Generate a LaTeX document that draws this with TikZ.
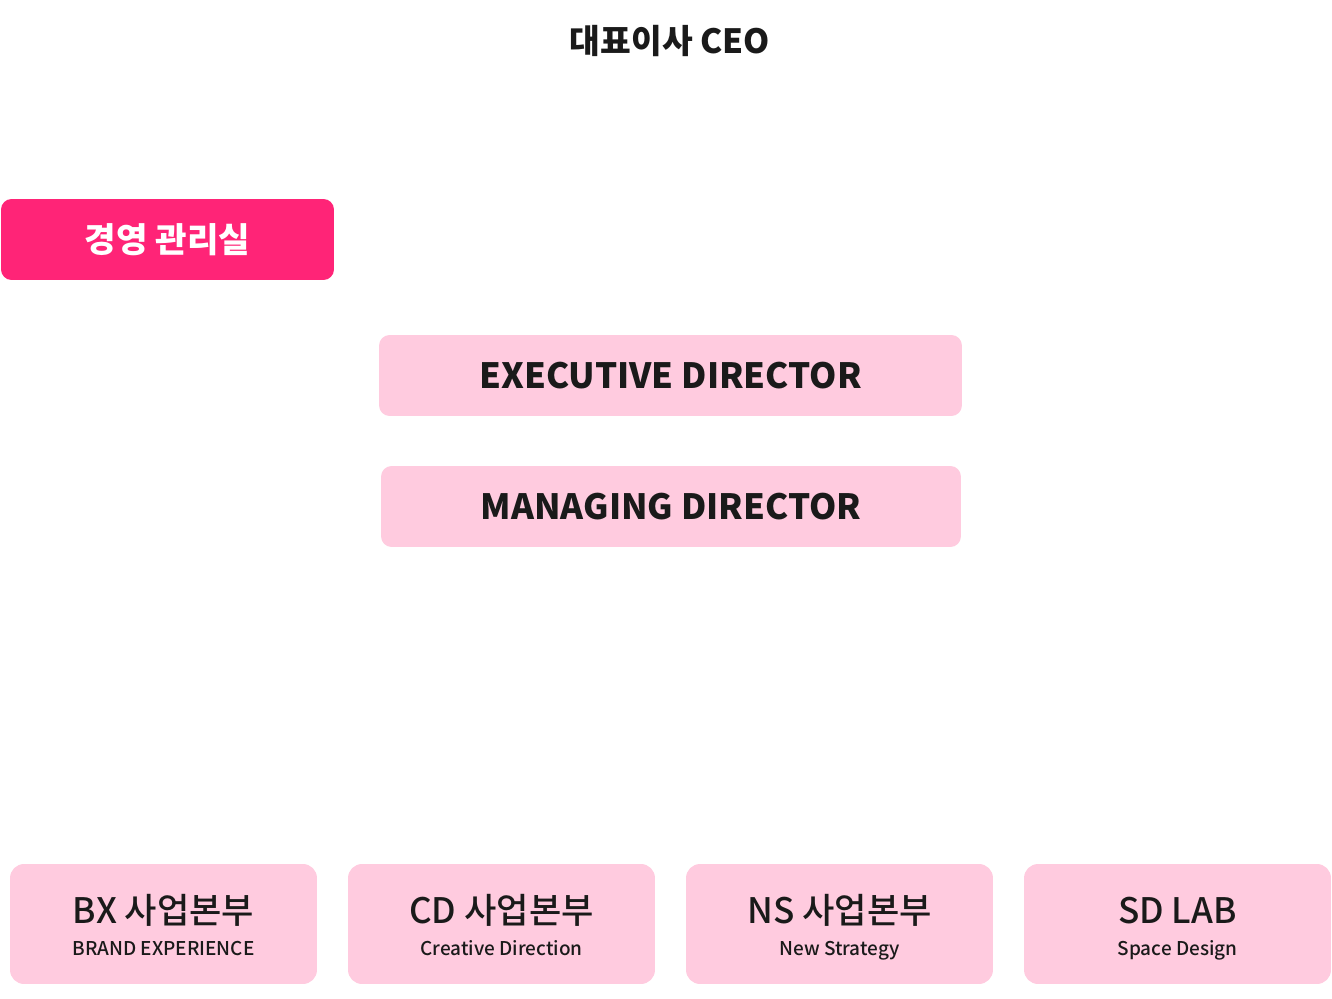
\documentclass[tikz,border=0pt]{standalone}
\usepackage{fontspec}
\setmainfont{Noto Sans CJK KR}
\newfontfamily\krmedium{Noto Sans CJK KR Medium}
\definecolor{hotpink}{RGB}{255,36,119}
\definecolor{softpink}{RGB}{255,203,223}
\definecolor{inkblack}{RGB}{26,26,26}
\usepackage{tikz}
\usetikzlibrary{positioning}

\begin{document}
\begin{tikzpicture}[x=0.02cm,y=-0.02cm,
      role/.style={fill=softpink,rounded corners=6pt,
                   minimum width=11.6cm,minimum height=1.62cm,
                   font=\fontsize{19.8}{24}\selectfont\bfseries,text=inkblack,align=center},
      unitbox/.style={fill=softpink,rounded corners=8pt,
                   minimum width=6.14cm,minimum height=2.4cm},
      unitname/.style={anchor=base,font=\krmedium\fontsize{20}{24}\selectfont,text=inkblack},
      unitsub/.style={anchor=base,font=\krmedium\fontsize{10.8}{13}\selectfont,text=inkblack}]
      \useasboundingbox (0,0) rectangle (1332,999);
      \node[font=\fontsize{19}{23}\selectfont\bfseries,text=inkblack] (ceo) at (670,41) {대표이사 CEO};
      \node[fill=hotpink,rounded corners=6pt,minimum width=6.66cm,minimum height=1.62cm,
            font=\fontsize{19.5}{23}\selectfont\bfseries,text=white] (mgmt) at (167.5,239.5) {경영 관리실};
      \node[role,minimum width=11.66cm] (exec) at (670.5,375.5) {EXECUTIVE DIRECTOR};
      \node[role] (md) at (671,506.5) {MANAGING DIRECTOR};
      \node[unitbox] (bx) at (163.5,924) {};
      \node[unitname] (bx-name) at (163.5,923) {BX 사업본부};
      \node[unitsub] (bx-sub) at (163.5,955) {BRAND EXPERIENCE};
      \node[unitbox] (cd) at (501.5,924) {};
      \node[unitname] (cd-name) at (501.5,923) {CD 사업본부};
      \node[unitsub] (cd-sub) at (501.5,955) {Creative Direction};
      \node[unitbox] (ns) at (839.5,924) {};
      \node[unitname] (ns-name) at (839.5,923) {NS 사업본부};
      \node[unitsub] (ns-sub) at (839.5,955) {New Strategy};
      \node[unitbox] (sd) at (1177.5,924) {};
      \node[unitname] (sd-name) at (1177.5,923) {SD LAB};
      \node[unitsub] (sd-sub) at (1177.5,955) {Space Design};
    \end{tikzpicture}
\end{document}
